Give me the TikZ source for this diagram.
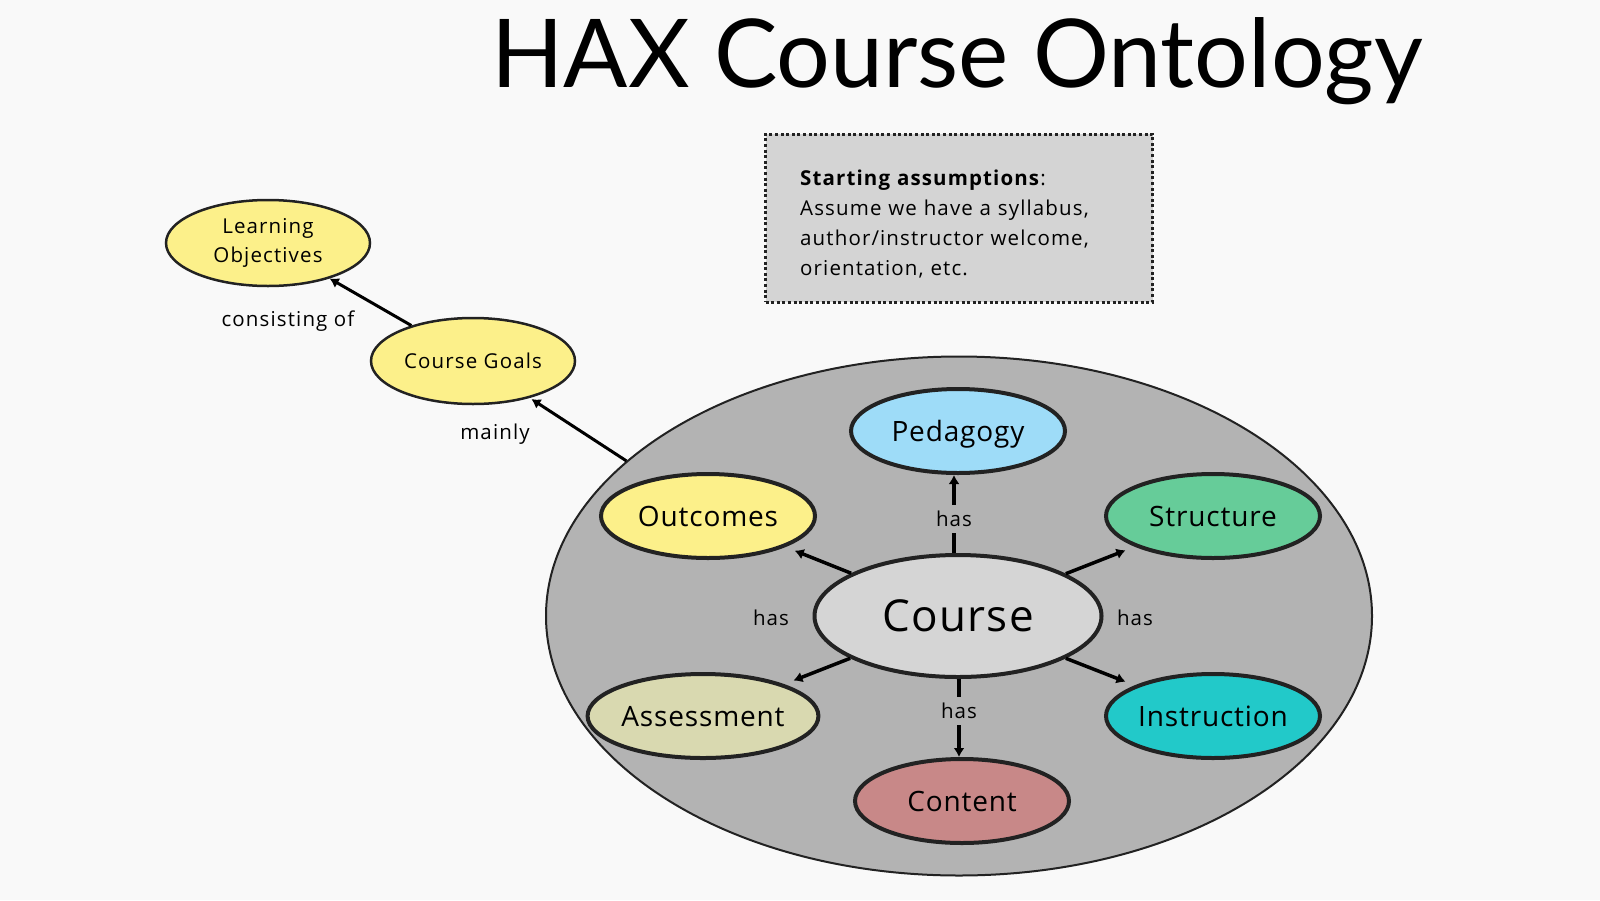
\documentclass[tikz,border=0pt]{standalone}
\usepackage{fontspec}
\setmainfont[LetterSpace=5.5]{Open Sans}
\newfontfamily\bigf[LetterSpace=3]{Open Sans}
\newfontfamily\titlefont{Lato}
\usetikzlibrary{shapes.geometric,arrows.meta}
\definecolor{bgc}{HTML}{F9F9F9}
\definecolor{boxc}{HTML}{D4D4D4}
\definecolor{yel}{HTML}{FCF08A}
\definecolor{blu}{HTML}{9EDCF8}
\definecolor{grn}{HTML}{66CC99}
\definecolor{tea}{HTML}{22C9C9}
\definecolor{asc}{HTML}{D9D9B0}
\definecolor{con}{HTML}{C88888}
\definecolor{crs}{HTML}{D5D5D5}
\definecolor{big}{HTML}{B3B3B3}
\definecolor{ink}{HTML}{222222}
\tikzset{
  outer/.style={ellipse, draw=ink, line width=2.5pt, fill=yel, inner sep=0pt, minimum width=204pt, minimum height=86pt, font=\fontsize{20.5}{29.5}\selectfont, align=center},
  inner/.style={ellipse, draw=ink, line width=4pt, inner sep=0pt, minimum width=214pt, minimum height=84pt, font=\bigf\fontsize{28}{32}\selectfont, text height=20pt, text depth=0pt},
  arr/.style={-{Latex[length=9pt,width=11pt]}, line width=3.5pt, draw=black},
  lbl/.style={font=\fontsize{20.5}{25}\selectfont, inner sep=2pt},
}
\begin{document}
\begin{tikzpicture}[x=1pt,y=-1pt]
\fill[bgc] (0,0) rectangle (1600,900);
\useasboundingbox (0,0) rectangle (1600,900);
\node[anchor=base west, font=\titlefont\fontsize{95}{100}\selectfont, inner sep=0pt] (title) at (491,87) {HAX Course Ontology};
\node[draw=ink, fill=boxc, line width=3pt, dash pattern=on 3pt off 2.6pt, minimum width=387pt, minimum height=168pt, inner sep=0pt] (assume) at (959,218) {};
\node[text width=340pt, align=left, font=\fontsize{20.5}{30}\selectfont, inner sep=0pt, anchor=north west] (assumetxt) at (800,170) {\textbf{Starting assumptions}:\\Assume we have a syllabus,\\author/instructor welcome,\\orientation, etc.};
\node[outer] (lo) at (268,243) {Learning\\Objectives};
\node[outer, text height=14.6pt, text depth=0pt] (cg) at (473,361) {Course Goals};
\node[lbl] (lcons) at (288,321) {consisting of};
\node[lbl] (lmain) at (495,434) {mainly};
\node[ellipse, draw=ink, line width=2pt, fill=big, minimum width=826pt, minimum height=519pt, inner sep=0pt] (big) at (959,616) {};
\node[inner, fill=blu] (ped) at (958,431) {Pedagogy};
\node[inner, fill=yel] (out) at (708,516) {Outcomes};
\node[inner, fill=grn] (str) at (1213,516) {Structure};
\node[inner, fill=asc] (ass) at (703,716) {Assessment};
\node[inner, fill=tea] (ins) at (1213,716) {Instruction};
\node[inner, fill=con] (cnt) at (962,801) {Content};
\node[ellipse, draw=ink, line width=4pt, fill=crs, inner sep=0pt, minimum width=287pt, minimum height=122pt, font=\bigf\fontsize{44}{48}\selectfont, text height=31.4pt, text depth=0pt] (crs) at (958,616) {Course};
\node[lbl] (hl) at (771,618) {has};
\node[lbl] (hr) at (1135,618) {has};
\draw[arr, line width=3pt] (cg) -- (lo);
\draw[arr, line width=3pt, shorten >=2pt] (big.155) -- (cg);
\draw[arr] ([xshift=-4pt]crs.north) -- node[lbl, fill=big, pos=0.44, inner ysep=6pt] (hp) {has} ([xshift=-4pt]ped.south);
\draw[arr] ([xshift=1pt]crs.south) -- node[lbl, fill=big, pos=0.41, inner ysep=6pt] (hc) {has} ([xshift=-3pt]cnt.north);
\draw[arr, shorten >=10pt] (crs) -- (out);
\draw[arr, shorten >=10pt] (crs) -- (str);
\draw[arr, shorten >=10pt] (crs) -- (ass);
\draw[arr, shorten >=10pt] (crs) -- (ins);
\end{tikzpicture}
\end{document}
